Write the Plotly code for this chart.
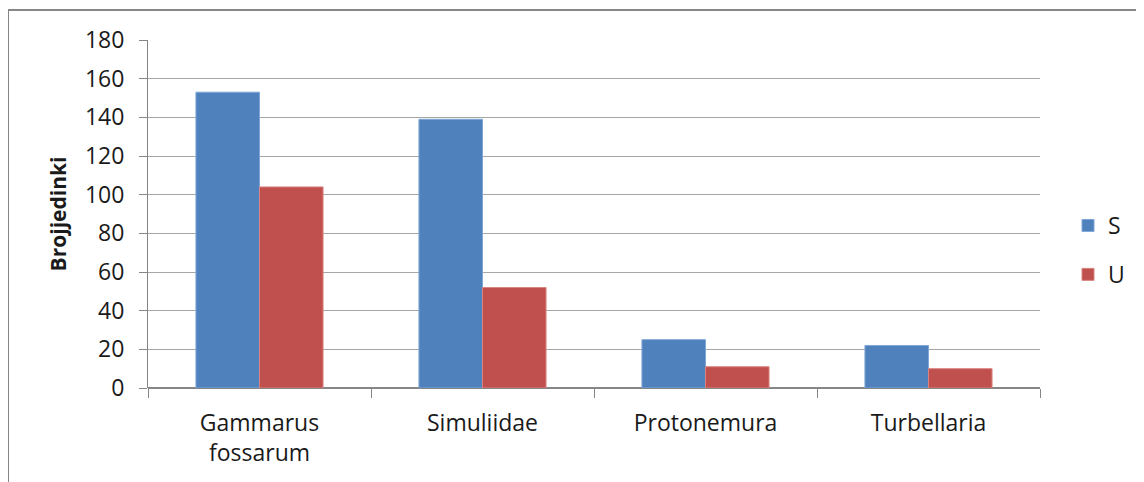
import plotly.graph_objects as go

categories = ["Gammarus<br>fossarum", "Simuliidae", "Protonemura", "Turbellaria"]
s_values = [153, 139, 25, 22]
u_values = [104, 52, 11, 10]
y_ticks = [0, 20, 40, 60, 80, 100, 120, 140, 160, 180]

FONT = "Open Sans"
OFF = 8  # page body margin offset
W, H = 1144, 482
L, T = 148 - OFF, 40 - OFF
pw, ph = 892, 348
R, B = W - L - pw, H - T - ph

def px_x(p):
    return (p - OFF - L) / pw

def px_y(p):
    return 1 - (p - OFF - T) / ph

fig = go.Figure()
fig.add_trace(go.Bar(x=categories, y=s_values, name="S", legendgroup="S",
                     marker=dict(color="#4F81BD", line=dict(color="#7FA7D6", width=1))))
fig.add_trace(go.Bar(x=categories, y=u_values, name="U", legendgroup="U",
                     marker=dict(color="#C0504D", line=dict(color="#D98482", width=1))))

fig.update_layout(
    width=W, height=H,
    margin=dict(l=L, r=R, t=T, b=B, autoexpand=False),
    paper_bgcolor="white", plot_bgcolor="white",
    barmode="group", bargap=0.43, bargroupgap=0,
    font=dict(family=FONT, size=23, color="#1a1a1a"),
    showlegend=True,
    legend=dict(x=px_x(1068), xanchor="left", y=px_y(250), yanchor="middle",
                font=dict(size=23), tracegroupgap=16, bgcolor="rgba(0,0,0,0)",
                itemwidth=30),
    xaxis=dict(showgrid=False, showline=False, ticks="outside", tickson="boundaries",
               ticklen=9, tickcolor="#868686", tickwidth=1,
               tickfont=dict(size=23), ticklabelstandoff=19),
    yaxis=dict(range=[0, 180], tickvals=y_ticks, showgrid=True, gridcolor="#A6A6A6", gridwidth=1,
               showline=True, linecolor="#868686", linewidth=1,
               ticks="outside", ticklen=8, tickcolor="#868686",
               tickfont=dict(size=23), ticklabelstandoff=10,
               zeroline=True, zerolinecolor="#868686",
               title=dict(text="<b>Brojjedinki</b>", font=dict(size=21), standoff=12)),
    shapes=[
        dict(type="line", xref="paper", yref="paper", x0=px_x(8), x1=px_x(1160),
             y0=px_y(10), y1=px_y(10), line=dict(color="#868686", width=2)),
        dict(type="line", xref="paper", yref="paper", x0=px_x(8), x1=px_x(8),
             y0=px_y(10), y1=px_y(500), line=dict(color="#868686", width=2)),
    ],
)

fig.write_html("out.html")
